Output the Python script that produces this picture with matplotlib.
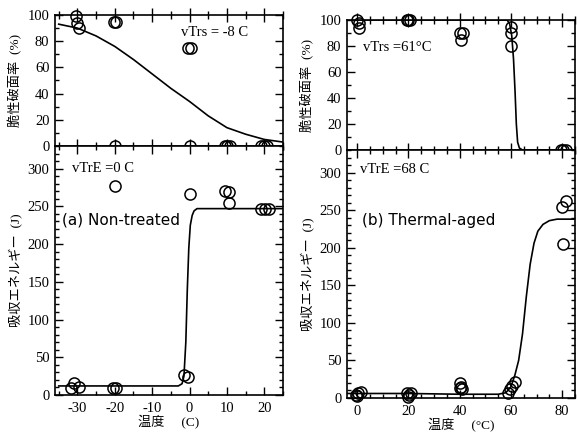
import numpy as np
import matplotlib
matplotlib.use("Agg")
import matplotlib.pyplot as plt
from matplotlib.ticker import MultipleLocator

plt.rcParams['font.family'] = ['Liberation Serif', 'Noto Sans CJK JP', 'DejaVu Sans']
plt.rcParams['axes.unicode_minus'] = False
plt.rcParams['xtick.direction'] = 'in'
plt.rcParams['ytick.direction'] = 'in'

# ---- (a) Non-treated: brittle fracture ratio (%)
a_frac_T = [-30.5, -30.0, -29.6, -20.3, -19.6, -0.4, 0.3, -20.0, 0.0, 9.5, 10.1, 10.7, 19.2, 20.0, 20.8]
a_frac_V = [99, 94, 90, 95, 95, 75, 75, 0, 0, 0, 0, 0, 0, 0, 0]
a_frac_curve_T = [-35, -30, -25, -20, -15, -10, -5, 0, 5, 10, 15, 20, 25]
a_frac_curve_V = [93, 90, 84, 76, 66, 55, 44, 34, 23, 14, 9, 5, 3]

# ---- (a) Non-treated: absorbed energy (J)
a_en_T = [-30.8, -31.6, -29.6, -20.0, -20.4, -19.6, 0.2, -1.5, -0.3, 9.4, 10.6, 10.6, 19.2, 20.2, 21.2]
a_en_V = [16, 9, 11, 277, 9, 9, 267, 27, 24, 270, 269, 254, 247, 247, 247]
a_en_curve_T = [-35, -3, -2, -1.5, -1.0, -0.6, -0.2, 0.2, 0.7, 1.2, 2.0, 25]
a_en_curve_V = [12, 12, 15, 25, 70, 140, 195, 225, 238, 244, 247, 247]

# ---- (b) Thermal-aged: brittle fracture ratio (%)
b_frac_T = [0.0, 0.6, 0.6, 19.5, 20.0, 20.6, 40.2, 41.4, 40.6, 60.2, 60.2, 60.2, 79.5, 80.5, 81.5]
b_frac_V = [100, 98, 94, 100, 100, 100, 90, 90, 85, 95, 90, 80, 0, 0, 0]
b_frac_curve_T = [-4, 58.5, 59.5, 60.3, 61.0, 61.6, 62.1, 62.6, 63.3, 64.5, 85]
b_frac_curve_V = [100, 100, 97, 88, 70, 45, 20, 6, 1.5, 0, 0]

# ---- (b) Thermal-aged: absorbed energy (J)
b_en_T = [-0.4, 0.4, 1.4, 0.0, 19.5, 20.3, 20.0, 20.8, 40.0, 40.6, 41.0, 40.3, 59.0, 59.6, 60.4, 61.5, 80.0, 81.6, 80.4]
b_en_V = [4, 7, 8, 2, 7, 4, 1, 6, 20, 15, 12, 13, 6, 12, 16, 21, 254, 262, 205]
b_en_curve_T = [-4, 20, 40, 55, 58, 60, 61.5, 63, 64.5, 66, 67.5, 69, 70.5, 72.5, 75, 78, 85]
b_en_curve_V = [6, 6, 5, 5, 7, 15, 30, 50, 85, 135, 178, 206, 222, 231, 236, 238, 238]

W, H = 577, 434
fig = plt.figure(figsize=(W / 100, H / 100), dpi=100)

def ax_at(x0, y0, x1, y1):
    return fig.add_axes([x0 / W, 1 - y1 / H, (x1 - x0) / W, (y1 - y0) / H])

ax_a_top = ax_at(55, 15, 283, 146)
ax_a_bot = ax_at(55, 146, 283, 395)
ax_b_top = ax_at(347, 20, 575, 150)
ax_b_bot = ax_at(347, 150, 575, 398)

mk = dict(marker='o', mfc='none', mec='black', ms=8, mew=1.1, ls='none', clip_on=False, zorder=5)
line = dict(color='black', lw=1.2)
FS = 10.5

def style(ax, xmaj, xmin, ymaj, ymin, top_panel):
    ax.xaxis.set_major_locator(MultipleLocator(xmaj))
    ax.xaxis.set_minor_locator(MultipleLocator(xmin))
    ax.yaxis.set_major_locator(MultipleLocator(ymaj))
    ax.yaxis.set_minor_locator(MultipleLocator(ymin))
    ax.tick_params(which='both', top=True, right=True, labelsize=FS, width=1.0)
    ax.tick_params(which='major', length=6)
    ax.tick_params(which='minor', length=3)
    ax.tick_params(axis='x', pad=5)
    ax.tick_params(axis='y', pad=4)
    for s in ax.spines.values():
        s.set_linewidth(1.2)
    if top_panel:
        ax.tick_params(axis='x', which='both', labelbottom=False, direction='inout')
        ax.tick_params(axis='x', which='major', length=10)
        ax.tick_params(axis='x', which='minor', length=6)

# (a) top
ax = ax_a_top
ax.plot(a_frac_curve_T, a_frac_curve_V, **line)
ax.plot(a_frac_T, a_frac_V, **mk)
ax.set_xlim(-36, 25)
ax.set_ylim(0, 100)
style(ax, 10, 5, 20, 10, True)
ax.set_ylabel('脆性破面率  (%)', fontsize=FS - 1)
ax.text(-2.3, 87, 'vTrs = -8 C', fontsize=FS, va='center')

# (a) bottom
ax = ax_a_bot
ax.plot(a_en_curve_T, a_en_curve_V, **line)
ax.plot(a_en_T, a_en_V, **mk)
ax.set_xlim(-36, 25)
ax.set_ylim(0, 330)
style(ax, 10, 5, 50, 10, False)
ax.set_ylabel('吸収エネルギー  (J)', fontsize=FS - 1)
ax.set_xlabel('温度     (C)', fontsize=FS - 1, labelpad=0)
ax.text(-31.5, 300, 'vTrE =0 C', fontsize=FS, va='center')
ax.text(-34, 226, '(a) Non-treated', fontsize=11, family='DejaVu Sans', va='baseline')

# (b) top
ax = ax_b_top
ax.plot(b_frac_curve_T, b_frac_curve_V, **line)
ax.plot(b_frac_T, b_frac_V, **mk)
ax.set_xlim(-4, 85)
ax.set_ylim(0, 100)
style(ax, 20, 5, 20, 10, True)
ax.set_ylabel('脆性破面率  (%)', fontsize=FS - 1)
ax.text(2.2, 79, 'vTrs =61°C', fontsize=FS, va='center')

# (b) bottom
ax = ax_b_bot
ax.plot(b_en_curve_T, b_en_curve_V, **line)
ax.plot(b_en_T, b_en_V, **mk)
ax.set_xlim(-4, 85)
ax.set_ylim(0, 330)
style(ax, 20, 5, 50, 10, False)
ax.set_ylabel('吸収エネルギー  (J)', fontsize=FS - 1)
ax.set_xlabel('温度     (°C)', fontsize=FS - 1, labelpad=0)
ax.text(1, 304, 'vTrE =68 C', fontsize=FS, va='center')
ax.text(2, 230, '(b) Thermal-aged', fontsize=11, family='DejaVu Sans', va='baseline')

fig.savefig('out.png', dpi=100)
